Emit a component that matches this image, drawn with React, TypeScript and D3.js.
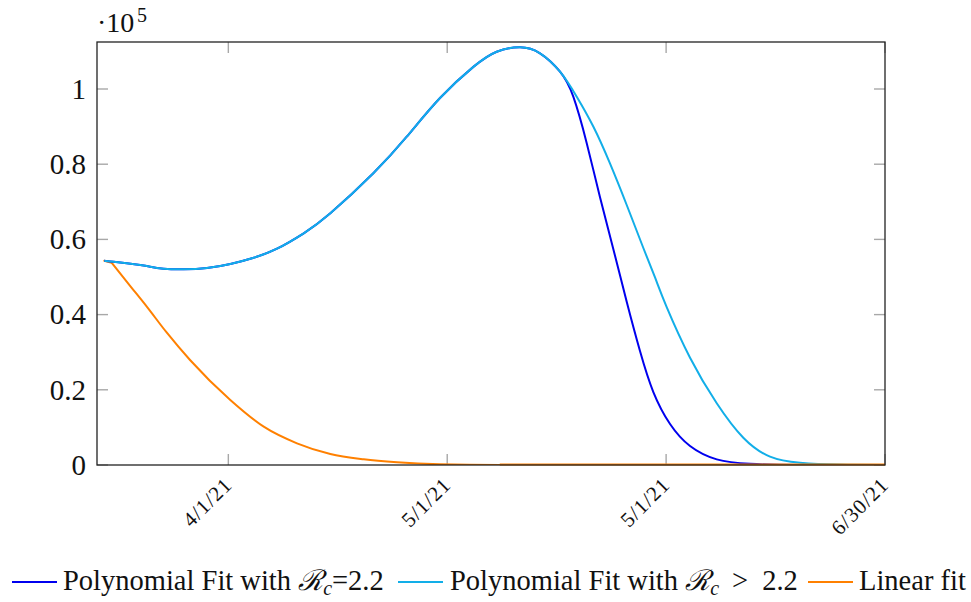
import React from "react";
import * as d3 from "d3";

// x values are days since 3/14/21 (day 18 = 4/1/21)
const tickDays = [18, 48, 78, 108];
const tickLabels = ["4/1/21", "5/1/21", "5/1/21", "6/30/21"];
const yTicks = [0, 20000, 40000, 60000, 80000, 100000];
const yTickLabels = ["0", "0.2", "0.4", "0.6", "0.8", "1"];

const sharedDays = [1.0, 2.29, 5.93, 7.31, 9.14, 11.88, 15.08, 18.27, 21.48, 24.67, 28.33, 31.98, 37.87, 42.45, 47.01, 51.58, 54.78, 57.98, 60.72, 63.46];
const sharedValues = [54340, 54070, 53190, 52740, 52210, 52050, 52390, 53460, 55130, 57530, 61620, 66940, 77580, 87310, 97600, 105880, 109920, 111090, 109490, 104600];

const polyDaysTail = [65.28, 67.12, 68.94, 70.77, 72.6, 74.42, 76.25, 78.54, 81.28, 84.94, 89.5, 96.3, 108];
const polyValuesTail = [97950, 85600, 71200, 57400, 43400, 30300, 19400, 10900, 5050, 1500, 300, 0, 0];

const highDaysTail = [65.75, 68.02, 70.29, 72.6, 74.88, 76.48, 78.08, 81.28, 84.94, 88.58, 92.24, 96.35, 101.8, 108];
const highValuesTail = [97950, 90020, 80290, 69150, 57710, 49870, 42000, 28540, 16410, 7240, 2210, 600, 100, 0];

const linearDays = [1.0, 2.01, 4.56, 6.85, 9.46, 12.75, 18.27, 22.85, 27.41, 31.98, 36.56, 41.12, 47.0, 55.2, 108];
const linearValues = [54340, 53800, 47600, 42050, 35460, 27930, 17290, 10190, 5770, 2930, 1520, 720, 190, 0, 0];

const seriesNames = ["Polynomial Fit with ", "Polynomial Fit with ", "Linear fit"];

const L = 97, R = 885, T = 42, B = 465;

export default function App() {
  const x = d3.scaleLinear().domain([0, 108]).range([L, R]);
  const y = d3.scaleLinear().domain([0, 112500]).range([B, T]);
  const smooth = d3
    .line<[number, number]>()
    .x((d) => x(d[0]))
    .y((d) => y(d[1]))
    .curve(d3.curveNatural);
  const mono = d3
    .line<[number, number]>()
    .x((d) => x(d[0]))
    .y((d) => y(d[1]))
    .curve(d3.curveMonotoneX);
  const straight = d3
    .line<[number, number]>()
    .x((d) => x(d[0]))
    .y((d) => y(d[1]));

  const zip = (a: number[], b: number[]) => a.map((v, i) => [v, b[i]] as [number, number]);
  const poly = zip(sharedDays.concat(polyDaysTail), sharedValues.concat(polyValuesTail));
  const high = zip(sharedDays.concat(highDaysTail), sharedValues.concat(highValuesTail));
  const lin = zip(linearDays, linearValues);

  const blue = "#0000ee";
  const cyan = "#12aee8";
  const orange = "#ff8000";
  const tickColor = "#a8a8a8";
  const font = "Liberation Serif";
  const legFs = 28.5;
  const legendY = 582;

  return (
    <svg width={971} height={602} style={{ position: "absolute", left: 0, top: 0, background: "#fff" }}>
      <defs>
        <clipPath id="plotClip">
          <rect x={L} y={T} width={R - L} height={B - T} />
        </clipPath>
      </defs>
      <rect x={0} y={0} width={971} height={602} fill="#fff" />
      {tickDays.map((d, i) => (
        <g key={"xt" + i}>
          <line x1={x(d)} x2={x(d)} y1={B} y2={B - 11} stroke={tickColor} strokeWidth={1.4} />
          <line x1={x(d)} x2={x(d)} y1={T} y2={T + 11} stroke={tickColor} strokeWidth={1.4} />
        </g>
      ))}
      {yTicks.map((v, i) => (
        <g key={"yt" + i}>
          <line x1={L} x2={L + 11} y1={y(v)} y2={y(v)} stroke={tickColor} strokeWidth={1.4} />
          <line x1={R} x2={R - 11} y1={y(v)} y2={y(v)} stroke={tickColor} strokeWidth={1.4} />
        </g>
      ))}
      <g clipPath="url(#plotClip)">
        <path d={straight(lin.slice(0, 2)) || ""} fill="none" stroke={orange} strokeWidth={2} strokeLinecap="round" />
        <path d={mono(lin.slice(1)) || ""} fill="none" stroke={orange} strokeWidth={2} strokeLinejoin="round" />
        <path d={smooth(poly) || ""} fill="none" stroke={blue} strokeWidth={2} />
        <path d={smooth(high) || ""} fill="none" stroke={cyan} strokeWidth={2} />
      </g>
      <line x1={x(55.2)} x2={R} y1={B - 0.5} y2={B - 0.5} stroke={orange} strokeWidth={2} />
      <rect x={L} y={T} width={R - L} height={B - T} fill="none" stroke="#222" strokeWidth={1.3} />
      {yTicks.map((v, i) => (
        <text key={"yl" + i} x={86} y={y(v)} dy="0.34em" textAnchor="end" style={{ fontFamily: font }} fontSize={29} fill="#111">
          {yTickLabels[i]}
        </text>
      ))}
      <text x={97} y={32} style={{ fontFamily: font }} fontSize={28} fill="#111">
        ·10
      </text>
      <text x={137} y={22} style={{ fontFamily: font }} fontSize={20} fill="#111">
        5
      </text>
      {tickDays.map((d, i) => (
        <text
          key={"xl" + i}
          transform={`translate(${x(d) + 5},${B + 21}) rotate(-45)`}
          textAnchor="end"
          style={{ fontFamily: font, letterSpacing: "1px" }}
          fontSize={21}
          fill="#111"
        >
          {tickLabels[i]}
        </text>
      ))}
      <line x1={12} x2={57} y1={legendY} y2={legendY} stroke={blue} strokeWidth={2} />
      <text x={63} y={590} style={{ fontFamily: font }} fontSize={legFs} fill="#111">
        <tspan>{seriesNames[0]}</tspan>
        <tspan fontStyle="italic">ℛ</tspan>
        <tspan fontStyle="italic" fontSize={20} dy={5}>c</tspan>
        <tspan dy={-5}>=2.2</tspan>
      </text>
      <line x1={398} x2={443} y1={legendY} y2={legendY} stroke={cyan} strokeWidth={2} />
      <text x={450} y={590} style={{ fontFamily: font }} fontSize={legFs} fill="#111">
        <tspan>{seriesNames[1]}</tspan>
        <tspan fontStyle="italic">ℛ</tspan>
        <tspan fontStyle="italic" fontSize={20} dy={5}>c</tspan>
        <tspan dy={-5} dx={13}>&gt;</tspan>
        <tspan dx={14}>2.2</tspan>
      </text>
      <line x1={808} x2={853} y1={legendY} y2={legendY} stroke={orange} strokeWidth={2} />
      <text x={859} y={590} style={{ fontFamily: font }} fontSize={legFs} fill="#111">
        {seriesNames[2]}
      </text>
    </svg>
  );
}
